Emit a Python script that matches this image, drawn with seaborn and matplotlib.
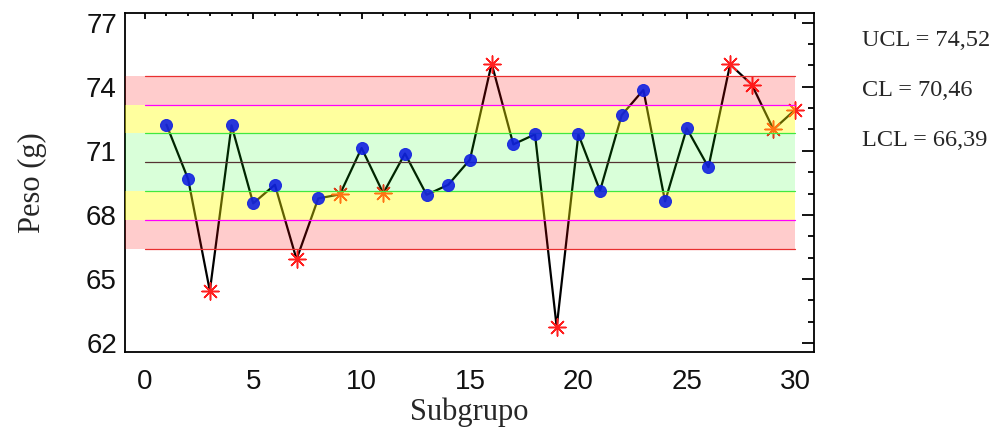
import matplotlib
matplotlib.use("Agg")
import matplotlib.pyplot as plt
import numpy as np
import pandas as pd
import seaborn as sns

sns.set_style("white")
plt.rcParams["font.family"] = ["Liberation Sans", "DejaVu Sans"]

# control limits
UCL = 74.52
CL = 70.46
LCL = 66.39
sigma = (UCL - CL) / 3.0

subgroup = list(range(1, 31))
weight = [72.22, 69.67, 64.44, 72.19, 68.54, 69.41, 65.92, 68.77, 68.96, 71.13,
          69.01, 70.87, 68.94, 69.41, 70.59, 75.08, 71.30, 71.77, 62.75, 71.77,
          69.13, 72.67, 73.85, 68.63, 72.05, 70.23, 75.04, 74.10, 72.00, 72.92]
flagged = [3, 7, 9, 11, 16, 19, 27, 28, 29, 30]

df = pd.DataFrame({"Subgrupo": subgroup, "Peso": weight})
df["flag"] = df["Subgrupo"].isin(flagged)

fig = plt.figure(figsize=(10, 4.38), dpi=100)
ax = fig.add_axes([0.1253, 0.1963, 0.814 - 0.1253, 0.9703 - 0.1963])

sns.lineplot(data=df, x="Subgrupo", y="Peso", color="black", linewidth=1.6,
             ax=ax, zorder=2)
sns.scatterplot(data=df[~df.flag], x="Subgrupo", y="Peso", color="#1020e0",
                edgecolor="#1020e0", s=75, alpha=0.9, ax=ax, zorder=6)
sns.scatterplot(data=df[df.flag], x="Subgrupo", y="Peso", color="#ff2020",
                marker=(8, 2, 0), s=150, linewidth=1.1, ax=ax, zorder=3)

xmin, xmax = -0.9, 30.87
# shaded zones drawn over the data, semi transparent
zones = [
    (LCL, CL - 2 * sigma, "#ff0000", 0.2),
    (CL - 2 * sigma, CL - sigma, "#ffff00", 0.38),
    (CL - sigma, CL + sigma, "#00ff00", 0.15),
    (CL + sigma, CL + 2 * sigma, "#ffff00", 0.38),
    (CL + 2 * sigma, UCL, "#ff0000", 0.2),
]
for lo, hi, c, a in zones:
    ax.fill_between([xmin, 30], lo, hi, color=c, alpha=a, linewidth=0, zorder=4)

limit_lines = [
    (UCL, "#e83030"), (LCL, "#e83030"),
    (CL + 2 * sigma, "#ff00ff"), (CL - 2 * sigma, "#ff00ff"),
    (CL + sigma, "#40e840"), (CL - sigma, "#40e840"),
    (CL, "#553333"),
]
for yv, c in limit_lines:
    ax.plot([0, 30], [yv, yv], color=c, linewidth=0.9, zorder=5)

ax.set_xlim(xmin, xmax)
ax.set_ylim(61.58, 77.45)
ax.set_xticks(range(0, 31, 5))
ax.set_xticks(range(0, 31), minor=True)
ax.set_yticks(range(62, 78, 3))
ax.set_yticks(range(62, 78), minor=True)
ax.tick_params(axis="both", which="both", direction="in", top=True, right=True,
               labelsize=20, width=1.3, colors="black")
ax.tick_params(axis="y", which="major", length=8.5, pad=6)
ax.tick_params(axis="y", which="minor", length=4.3)
ax.tick_params(axis="x", which="major", length=4.3, pad=12)
ax.tick_params(axis="x", which="minor", length=2.2)
for lbl in ax.get_xticklabels() + ax.get_yticklabels():
    lbl.set_color("#111111")
for s in ax.spines.values():
    s.set_color("black")
    s.set_linewidth(1.3)

ax.set_xlabel("Subgrupo", family="Liberation Serif", fontsize=22, labelpad=2)
ax.set_ylabel("Peso (g)", family="Liberation Serif", fontsize=22, labelpad=28)

fig.text(0.862, 1 - 46 / 438, "UCL = 74,52", family="Liberation Serif",
         fontsize=17.5, va="baseline", ha="left")
fig.text(0.862, 1 - 96.5 / 438, "CL = 70,46", family="Liberation Serif",
         fontsize=17.5, va="baseline", ha="left")
fig.text(0.862, 1 - 145.5 / 438, "LCL = 66,39", family="Liberation Serif",
         fontsize=17.5, va="baseline", ha="left")

fig.savefig("out.png", dpi=100)
